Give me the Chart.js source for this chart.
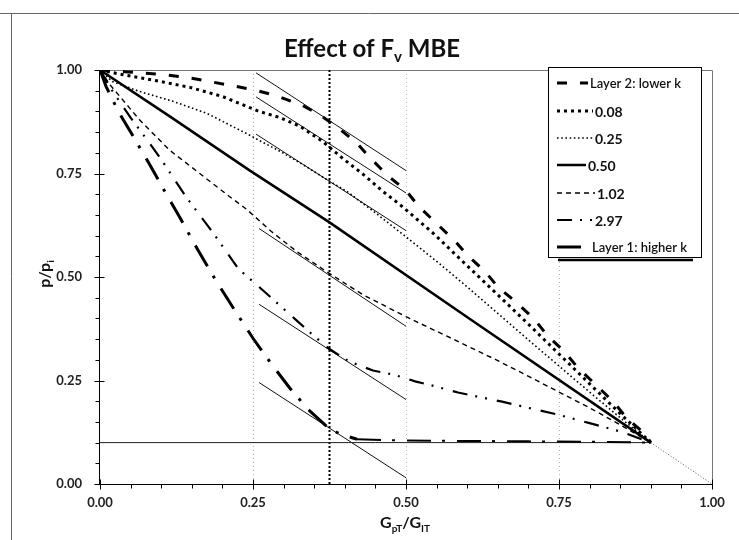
<!DOCTYPE html>
<html><head><meta charset="utf-8">
<script src="https://cdn.jsdelivr.net/npm/chart.js@4.4.1/dist/chart.umd.min.js"></script>
<style>html,body{margin:0;padding:0;background:#fff}canvas{display:block}</style>
</head><body>
<canvas id="c" width="739" height="540"></canvas>
<script>
// ---------- data ----------
const xTicks = [0, 0.25, 0.5, 0.75, 1];
const yTicks = [0, 0.25, 0.5, 0.75, 1];
const seriesLabels = ['Layer 2: lower k', '0.08', '0.25', '0.50', '1.02', '2.97', 'Layer 1: higher k'];

const layer2X = [0, 0.04, 0.11, 0.15, 0.22, 0.26, 0.29, 0.33, 0.36, 0.39, 0.42, 0.44, 0.47, 0.50, 0.52, 0.55, 0.58, 0.60, 0.63, 0.65, 0.68, 0.71, 0.73, 0.76, 0.78, 0.81, 0.84, 0.86, 0.89, 0.90];
const layer2Y = [1, 0.996, 0.988, 0.98, 0.961, 0.949, 0.937, 0.915, 0.891, 0.859, 0.823, 0.79, 0.745, 0.709, 0.672, 0.629, 0.587, 0.553, 0.512, 0.476, 0.439, 0.398, 0.36, 0.318, 0.282, 0.24, 0.197, 0.16, 0.122, 0.1];

const v008X = [0, 0.033, 0.093, 0.147, 0.2, 0.24, 0.26, 0.294, 0.327, 0.364, 0.397, 0.43, 0.462, 0.49, 0.545, 0.6, 0.65, 0.7, 0.75, 0.8, 0.85, 0.9];
const v008Y = [1, 0.99, 0.974, 0.958, 0.936, 0.912, 0.9, 0.885, 0.864, 0.827, 0.786, 0.748, 0.707, 0.675, 0.605, 0.527, 0.457, 0.386, 0.314, 0.242, 0.17, 0.1];

const v025X = [0, 0.02, 0.065, 0.12, 0.175, 0.24, 0.26, 0.295, 0.33, 0.37, 0.405, 0.45, 0.5, 0.55, 0.6, 0.65, 0.7, 0.75, 0.8, 0.85, 0.9];
const v025Y = [1, 0.972, 0.948, 0.924, 0.895, 0.846, 0.83, 0.803, 0.773, 0.736, 0.705, 0.655, 0.597, 0.538, 0.476, 0.412, 0.348, 0.285, 0.222, 0.16, 0.1];

const v050X = [0, 0.114, 0.245, 0.375, 0.605, 0.9];
const v050Y = [1, 0.888, 0.757, 0.632, 0.398, 0.1];

const v102X = [0, 0.016, 0.065, 0.114, 0.163, 0.212, 0.24, 0.28, 0.322, 0.371, 0.43, 0.5, 0.567, 0.65, 0.703, 0.75, 0.8, 0.85, 0.9];
const v102Y = [1, 0.965, 0.879, 0.806, 0.75, 0.694, 0.663, 0.61, 0.561, 0.512, 0.457, 0.404, 0.357, 0.298, 0.258, 0.222, 0.184, 0.143, 0.1];

const v297X = [0, 0.02, 0.05, 0.08, 0.1, 0.14, 0.188, 0.226, 0.273, 0.322, 0.35, 0.375, 0.407, 0.446, 0.48, 0.515, 0.55, 0.585, 0.62, 0.657, 0.7, 0.75, 0.8, 0.85, 0.9];
const v297Y = [1, 0.95, 0.885, 0.825, 0.784, 0.695, 0.6, 0.52, 0.459, 0.394, 0.357, 0.326, 0.296, 0.274, 0.264, 0.248, 0.235, 0.221, 0.21, 0.199, 0.184, 0.167, 0.147, 0.127, 0.1];

const layer1X = [0, 0.01, 0.03, 0.05, 0.08, 0.1, 0.13, 0.16, 0.19, 0.22, 0.25, 0.28, 0.31, 0.34, 0.37, 0.39, 0.42, 0.5, 0.6, 0.7, 0.8, 0.9];
const layer1Y = [1, 0.96, 0.9, 0.85, 0.775, 0.722, 0.645, 0.565, 0.49, 0.42, 0.352, 0.29, 0.232, 0.18, 0.14, 0.122, 0.108, 0.105, 0.104, 0.103, 0.102, 0.1];

const abandonX = [0, 0.9];
const abandonY = [0.1, 0.1];
const extendX = [0.9, 1.0];
const extendY = [0.1, 0];
const markerX = [0.375, 0.375];
const markerY = [0, 1];

const tanX0 = [0.255, 0.255, 0.255, 0.26, 0.26, 0.26];
const tanY0 = [0.993, 0.935, 0.845, 0.617, 0.434, 0.245];
const tanX1 = [0.5, 0.5, 0.5, 0.5, 0.5, 0.5];
const tanY1 = [0.757, 0.703, 0.612, 0.381, 0.204, 0.015];

// ---------- build datasets ----------
const pts = (xs, ys) => xs.map((x, i) => ({x, y: ys[i]}));
const base = {pointRadius: 0, fill: false, tension: 0, borderColor: '#000', borderCapStyle: 'butt', showLine: true};

const datasets = [
  {...base, label: seriesLabels[0], data: pts(layer2X, layer2Y), borderWidth: 3, borderDash: [10, 13]},
  {...base, label: seriesLabels[1], data: pts(v008X, v008Y), borderWidth: 3, borderDash: [3, 4]},
  {...base, label: seriesLabels[2], data: pts(v025X, v025Y), borderWidth: 1.6, borderDash: [1.6, 2.6]},
  {...base, label: seriesLabels[3], data: pts(v050X, v050Y), borderWidth: 2.5},
  {...base, label: seriesLabels[4], data: pts(v102X, v102Y), borderWidth: 1.4, borderDash: [5, 4]},
  {...base, label: seriesLabels[5], data: pts(v297X, v297Y), borderWidth: 2.2, borderDash: [15, 8, 2, 8, 2, 10]},
  {...base, label: seriesLabels[6], data: pts(layer1X, layer1Y), borderWidth: 3, borderDash: [24, 11, 3, 12],
    segment: {borderWidth: c => (c.p0.parsed.x >= 0.42 ? 2 : 3)}},
  {...base, label: '', data: pts(abandonX, abandonY), borderWidth: 1, borderColor: '#222'},
  {...base, label: '', data: pts(extendX, extendY), borderWidth: 1, borderColor: '#555', borderDash: [1, 2]},
  {...base, label: '', data: pts(markerX, markerY), borderWidth: 2, borderDash: [2, 2]},
];
tanX0.forEach((x0, i) => {
  datasets.push({...base, label: '', data: pts([x0, tanX1[i]], [tanY0[i], tanY1[i]]), borderWidth: 1, borderColor: '#111'});
});

// ---------- helpers ----------
function richWidth(ctx, parts, size, subSize) {
  let w = 0;
  parts.forEach(p => { ctx.font = 'bold ' + (p.sub ? subSize : size) + 'px Lato'; w += ctx.measureText(p.t).width; });
  return w;
}
function drawRich(ctx, parts, cx, baseline, size, subSize, subDrop) {
  const w = richWidth(ctx, parts, size, subSize);
  let x = cx - w / 2;
  ctx.textAlign = 'left'; ctx.textBaseline = 'alphabetic';
  parts.forEach(p => {
    ctx.font = 'bold ' + (p.sub ? subSize : size) + 'px Lato';
    ctx.fillText(p.t, x, baseline + (p.sub ? subDrop : 0));
    x += ctx.measureText(p.t).width;
  });
}

const decor = {
  id: 'decor',
  beforeDraw(chart) {
    const ctx = chart.ctx;
    ctx.save(); ctx.fillStyle = '#fff'; ctx.fillRect(0, 0, chart.width, chart.height); ctx.restore();
  },
  beforeDatasetsDraw(chart) {
    const ctx = chart.ctx, a = chart.chartArea, xs = chart.scales.x;
    ctx.save();
    ctx.strokeStyle = '#666'; ctx.lineWidth = 1;
    ctx.beginPath(); ctx.moveTo(0, 13.5); ctx.lineTo(739, 13.5); ctx.stroke();
    ctx.beginPath(); ctx.moveTo(11.5, 13); ctx.lineTo(11.5, 540); ctx.stroke();
    ctx.strokeStyle = '#b0b0b0'; ctx.setLineDash([1, 3]);
    [0.25, 0.5, 0.75].forEach(v => {
      const px = Math.round(xs.getPixelForValue(v)) + 0.5;
      ctx.beginPath(); ctx.moveTo(px, a.top); ctx.lineTo(px, a.bottom); ctx.stroke();
    });
    ctx.setLineDash([]);
    ctx.strokeStyle = '#777';
    ctx.beginPath(); ctx.moveTo(a.left, a.top + 0.5); ctx.lineTo(a.right + 0.5, a.top + 0.5); ctx.lineTo(a.right + 0.5, a.bottom); ctx.stroke();
    ctx.restore();
  },
  afterDraw(chart) {
    const ctx = chart.ctx, a = chart.chartArea, xs = chart.scales.x, ys = chart.scales.y;
    ctx.save();
    ctx.strokeStyle = '#000'; ctx.lineWidth = 1;
    const L = Math.round(a.left) - 0.5, B = Math.round(a.bottom) + 0.5;
    ctx.beginPath(); ctx.moveTo(L, a.top); ctx.lineTo(L, B); ctx.lineTo(a.right + 1, B); ctx.stroke();
    for (let i = 0; i <= 20; i++) {
      const v = i / 20, major = i % 5 === 0;
      const px = Math.round(xs.getPixelForValue(v)) + 0.5;
      ctx.beginPath(); ctx.moveTo(px, major ? B - 5 : B); ctx.lineTo(px, B + (major ? 5 : 4)); ctx.stroke();
      const py = Math.round(ys.getPixelForValue(v)) + 0.5;
      ctx.beginPath(); ctx.moveTo(major ? L + 5 : L, py); ctx.lineTo(L - (major ? 5 : 4), py); ctx.stroke();
    }
    ctx.fillStyle = '#111';
    drawRich(ctx, [{t: 'Effect of F'}, {t: 'v', sub: true}, {t: ' MBE'}], 372, 57, 24, 15, 5);
    drawRich(ctx, [{t: 'G'}, {t: 'pT', sub: true}, {t: '/G'}, {t: 'IT', sub: true}], 405, 528, 16, 10, 4);
    ctx.save(); ctx.translate(50, 274); ctx.rotate(-Math.PI / 2);
    drawRich(ctx, [{t: 'p/p'}, {t: 'i', sub: true}], 0, 0, 16, 10, 4);
    ctx.restore();
    const bx = 548, by = 67, bw = 153, bh = 190;
    ctx.fillStyle = '#fff'; ctx.fillRect(bx, by, bw, bh);
    ctx.strokeStyle = '#000'; ctx.lineWidth = 1;
    ctx.strokeRect(bx + 0.5, by + 0.5, bw, bh);
    ctx.lineWidth = 2.5;
    ctx.beginPath(); ctx.moveTo(bx + 10, by + bh + 3); ctx.lineTo(bx + bw - 8, by + bh + 3); ctx.stroke();
    const rowY = [83, 111, 138, 165, 193, 220, 247];
    const textX = [590, 595, 595, 588, 597, 595, 592];
    for (let i = 0; i < 7; i++) {
      const ds = chart.data.datasets[i];
      ctx.save();
      ctx.strokeStyle = ds.borderColor; ctx.lineWidth = ds.borderWidth;
      ctx.setLineDash(ds.borderDash || []);
      ctx.beginPath(); ctx.moveTo(557, rowY[i]); ctx.lineTo(textX[i] - 2, rowY[i]); ctx.stroke();
      ctx.restore();
      const isNum = i >= 1 && i <= 5;
      ctx.font = (isNum ? 'bold 14px' : '600 13px') + ' Lato';
      ctx.fillStyle = '#111'; ctx.textAlign = 'left'; ctx.textBaseline = 'middle';
      ctx.fillText(ds.label, textX[i], rowY[i] + 1);
    }
    ctx.restore();
  }
};

const tickFont = {family: 'Lato', size: 13, weight: 'bold'};
new Chart(document.getElementById('c').getContext('2d'), {
  type: 'line',
  data: {datasets},
  options: {
    responsive: false, animation: false, events: [],
    layout: {padding: {top: 70, right: 27, left: 0, bottom: 0}},
    plugins: {legend: {display: false}, title: {display: false}, tooltip: {enabled: false}},
    scales: {
      x: {
        type: 'linear', min: 0, max: 1,
        afterFit(s) { s.height = 56; },
        afterBuildTicks(s) { s.ticks = xTicks.map(v => ({value: v})); },
        ticks: {padding: 11, font: tickFont, color: '#222', callback: v => Number(v).toFixed(2), maxRotation: 0, autoSkip: false},
        grid: {display: false, drawTicks: false},
        border: {display: false}
      },
      y: {
        type: 'linear', min: 0, max: 1,
        afterFit(s) { s.width = 100; },
        afterBuildTicks(s) { s.ticks = yTicks.map(v => ({value: v})); },
        ticks: {padding: 18, font: tickFont, color: '#222', callback: v => Number(v).toFixed(2), autoSkip: false},
        grid: {display: false, drawTicks: false},
        border: {display: false}
      }
    }
  },
  plugins: [decor]
});
</script>
</body></html>
